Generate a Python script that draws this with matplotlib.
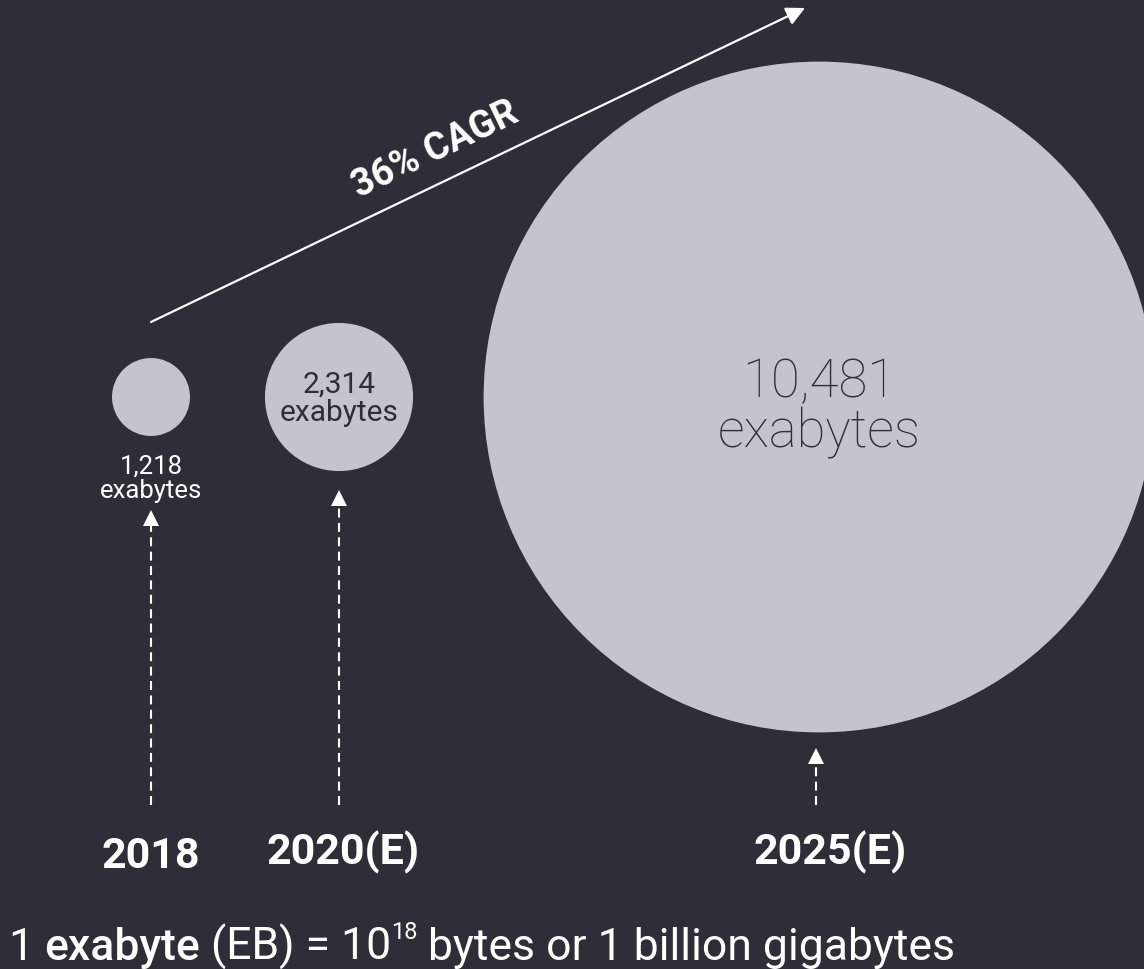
import matplotlib
matplotlib.use("Agg")
import matplotlib.pyplot as plt
from matplotlib.patches import Circle

# ---- data ----
years = ["2018", "2020(E)", "2025(E)"]
values = [1218, 2314, 10481]
value_labels = ["1,218\nexabytes", "2,314\nexabytes", "10,481\nexabytes"]
cagr_label = "36% CAGR"
footnote_parts = ["1 ", "exabyte", " (EB) = 10", "18", " bytes or 1 billion gigabytes"]

# ---- style ----
BG = "#2e2e38"
CIRCLE = "#c4c4cd"
WHITE = "#ffffff"
FONT = ["Roboto", "DejaVu Sans"]

W, H = 1144, 970
fig = plt.figure(figsize=(W / 100, H / 100), dpi=100, facecolor=BG)
ax = fig.add_axes([0, 0, 1, 1])
ax.set_xlim(0, W)
ax.set_ylim(H, 0)
ax.set_aspect("equal")
ax.axis("off")
ax.set_facecolor(BG)

scale = 0.032          # px of radius per exabyte
cx = [151, 339, 819]   # circle centres
cy = 398
label_x = [151, 343, 830]
label_base = [868, 865, 865]
arrow_x = [151, 339, 816]
arrow_tip = [512, 492, 750]
arrow_base = 806

for i, v in enumerate(values):
    r = v * scale
    ax.add_patch(Circle((cx[i], cy), r, facecolor=CIRCLE, edgecolor="none", zorder=2))

# value labels
ax.text(cx[0], 479, value_labels[0], ha="center", va="center", color=WHITE,
        fontsize=18.5, family=FONT, weight="normal", linespacing=1.02, zorder=3)
ax.text(cx[1], 399, value_labels[1], ha="center", va="center", color=BG,
        fontsize=21.5, family=FONT, weight="normal", linespacing=1.0, zorder=3)
ax.text(cx[2], 408, value_labels[2], ha="center", va="center", color=BG,
        fontsize=38, family=FONT, weight="light", linespacing=0.97, zorder=3)

# dashed arrows
for x, tip in zip(arrow_x, arrow_tip):
    ax.plot([x, x], [arrow_base, tip + 14], color=WHITE, lw=1.5,
            ls=(0, (4.3, 2.6)), zorder=3)
    ax.plot([x], [tip + 7], marker="^", markersize=11, color=WHITE,
            markeredgewidth=0, zorder=3)

# year labels
for x, yb, yl in zip(label_x, label_base, years):
    ax.text(x, yb, yl, ha="center", va="baseline", color=WHITE,
            fontsize=31, family=FONT, weight="bold", zorder=3)

# CAGR arrow
ax.annotate("", xy=(805, 9), xytext=(151, 323),
            arrowprops=dict(arrowstyle="-|>", color=WHITE, lw=1.6,
                            mutation_scale=28, shrinkA=0, shrinkB=0))
ax.text(435, 150, cagr_label, rotation=25.6, rotation_mode="anchor",
        ha="center", va="center", color=WHITE, fontsize=27,
        family=FONT, weight="bold")

# footnote with rich text
fig.canvas.draw()
renderer = fig.canvas.get_renderer()
x = 8
base = 960
styles = [
    dict(fontsize=32, weight="normal", dy=0),
    dict(fontsize=32, weight="medium", dy=0),
    dict(fontsize=32, weight="normal", dy=0),
    dict(fontsize=17, weight="normal", dy=-21),
    dict(fontsize=32, weight="normal", dy=0),
]
for part, st in zip(footnote_parts, styles):
    lead = len(part) - len(part.lstrip(" "))
    trail = len(part) - len(part.rstrip(" "))
    t = ax.text(x, base + st["dy"], part.strip(" "), ha="left", va="baseline",
                color=WHITE, fontsize=st["fontsize"], family=FONT,
                weight=st["weight"])
    sp = ax.text(0, 0, "a a", fontsize=st["fontsize"], family=FONT)
    sa = ax.text(0, 0, "aa", fontsize=st["fontsize"], family=FONT)
    space_w = sp.get_window_extent(renderer).width - sa.get_window_extent(renderer).width
    sp.remove(); sa.remove()
    if lead:
        t.set_x(x + lead * space_w)
    bb = t.get_window_extent(renderer)
    x = t.get_position()[0] + bb.width + trail * space_w

fig.savefig("out.png", dpi=100, facecolor=BG)
